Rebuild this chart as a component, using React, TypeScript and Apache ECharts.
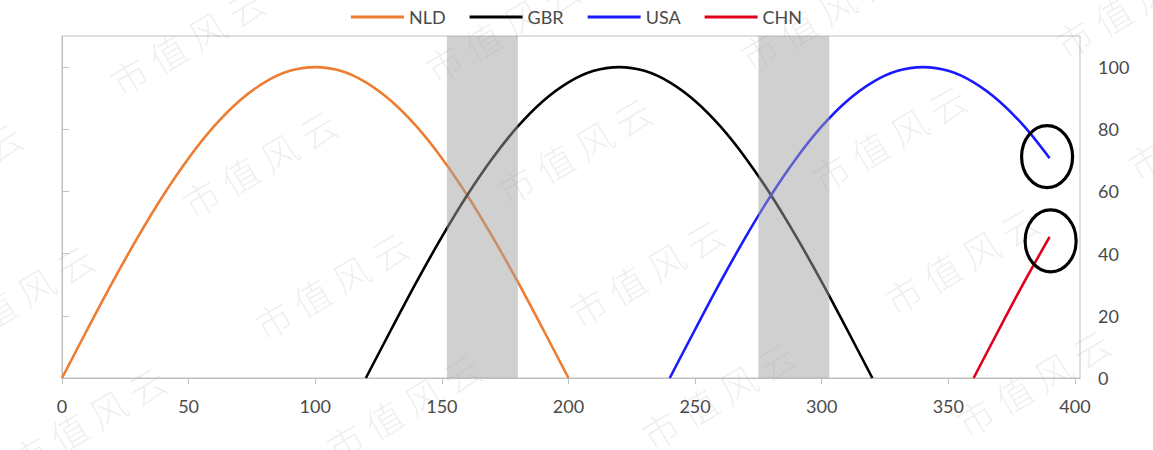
import React, { useEffect, useRef } from "react";
import * as echarts from "echarts";

// ---- data ----
const seriesNames = ["NLD", "GBR", "USA", "CHN"];
const seriesColors = ["#ED7D31", "#000000", "#1A1AFF", "#E0001B"];

const nldX = [0, 10, 20, 30, 40, 50, 60, 70, 80, 90, 100, 110, 120, 130, 140, 150, 160, 170, 180, 190, 200];
const nldY = [0, 15.6, 30.9, 45.4, 58.8, 70.7, 80.9, 89.1, 95.1, 98.8, 100, 98.8, 95.1, 89.1, 80.9, 70.7, 58.8, 45.4, 30.9, 15.6, 0];

const gbrX = [120, 130, 140, 150, 160, 170, 180, 190, 200, 210, 220, 230, 240, 250, 260, 270, 280, 290, 300, 310, 320];
const gbrY = [0, 15.6, 30.9, 45.4, 58.8, 70.7, 80.9, 89.1, 95.1, 98.8, 100, 98.8, 95.1, 89.1, 80.9, 70.7, 58.8, 45.4, 30.9, 15.6, 0];

const usaX = [240, 250, 260, 270, 280, 290, 300, 310, 320, 330, 340, 350, 360, 370, 380, 390];
const usaY = [0, 15.6, 30.9, 45.4, 58.8, 70.7, 80.9, 89.1, 95.1, 98.8, 100, 98.8, 95.1, 89.1, 80.9, 70.7];

const chnX = [360, 370, 380, 390];
const chnY = [0, 15.6, 30.9, 45.4];

// shaded bands [start, end] on the x axis
const bands = [
  [152, 180],
  [275, 303],
];

// circled points (data coordinates)
const circles = [
  [389, 71.2],
  [390.4, 44.1],
];

const xTicks = [0, 50, 100, 150, 200, 250, 300, 350, 400];
const yTicks = [0, 20, 40, 60, 80, 100];

const watermarkText = "市值风云";

const FONT = "Lato, 'Noto Sans', sans-serif";
const AXIS_COLOR = "#BFBFBF";
const LABEL_COLOR = "#4A4A4A";

function pairs(xs: number[], ys: number[]) {
  return xs.map((x, i) => [x, ys[i]]);
}

function buildWatermarks() {
  const items: any[] = [];
  const ox = 259, oy = 163;
  const ax = 315, ay = -12.5;
  const bx = 72, by = 122;
  const chars = watermarkText.split("");
  for (let j = -2; j <= 3; j++) {
    for (let i = -2; i <= 4; i++) {
      const cx = ox + i * ax + j * bx;
      const cy = oy + i * ay + j * by;
      if (cx < -120 || cx > 1153 + 120 || cy < -70 || cy > 450 + 70) continue;
      items.push({
        type: "group",
        x: cx,
        y: cy,
        rotation: (30.6 * Math.PI) / 180,
        z: 100,
        silent: true,
        children: chars.map((c, k) => ({
          type: "text",
          x: -67.5 + k * 45,
          y: 0,
          silent: true,
          style: {
            text: c,
            fontSize: 37,
            fontFamily: "'Noto Sans CJK SC', sans-serif",
            fontWeight: 300,
            fill: "rgba(0,0,0,0.075)",
            align: "center",
            verticalAlign: "middle",
          },
        })),
      });
    }
  }
  return items;
}

export default function App() {
  const ref = useRef<HTMLDivElement>(null);

  useEffect(() => {
    if (!ref.current) return;
    const chart = echarts.init(ref.current, undefined, { renderer: "svg" });
    const lineData = [pairs(nldX, nldY), pairs(gbrX, gbrY), pairs(usaX, usaY), pairs(chnX, chnY)];

    const option: any = {
      animation: false,
      backgroundColor: "#ffffff",
      legend: {
        data: seriesNames,
        top: 3,
        left: "center",
        icon: "rect",
        itemWidth: 53,
        itemHeight: 3,
        itemGap: 24,
        textStyle: { fontFamily: FONT, fontSize: 18, color: LABEL_COLOR, lineHeight: 18 },
      },
      grid: {
        left: 62,
        right: 73,
        top: 36,
        bottom: 72,
        show: true,
        borderColor: AXIS_COLOR,
        borderWidth: 1,
        backgroundColor: "transparent",
      },
      xAxis: {
        type: "value",
        min: 0,
        max: 402,
        splitLine: { show: false },
        axisLine: { show: true, lineStyle: { color: AXIS_COLOR, width: 1 } },
        axisTick: { show: true, length: 6, lineStyle: { color: AXIS_COLOR }, customValues: xTicks },
        axisLabel: {
          customValues: xTicks,
          margin: 19,
          fontFamily: FONT,
          fontSize: 18,
          color: LABEL_COLOR,
        },
      },
      yAxis: {
        type: "value",
        position: "right",
        min: 0,
        max: 110,
        splitLine: { show: false },
        axisLine: { show: true, lineStyle: { color: AXIS_COLOR, width: 1 } },
        axisTick: { show: true, inside: false, length: 7, lineStyle: { color: AXIS_COLOR }, customValues: yTicks },
        axisLabel: {
          customValues: yTicks,
          margin: 18,
          fontFamily: FONT,
          fontSize: 18,
          color: LABEL_COLOR,
        },
      },
      series: [
        ...seriesNames.map((name, i) => ({
          name,
          type: "line",
          data: lineData[i],
          smooth: 0.3,
          symbol: "none",
          z: 2,
          itemStyle: { color: seriesColors[i] },
          lineStyle: { color: seriesColors[i], width: 2.6 },
        })),
        {
          name: "bands",
          type: "custom",
          z: 5,
          silent: true,
          data: bands,
          renderItem: (params: any, api: any) => {
            const p0 = api.coord([api.value(0), 110]);
            const p1 = api.coord([api.value(1), 0]);
            return {
              type: "rect",
              shape: { x: p0[0], y: p0[1], width: p1[0] - p0[0], height: p1[1] - p0[1] },
              style: { fill: "rgba(161,161,161,0.5)" },
            };
          },
        },
        {
          name: "circles",
          type: "custom",
          z: 6,
          silent: true,
          clip: false,
          data: circles,
          renderItem: (params: any, api: any) => {
            const p = api.coord([api.value(0), api.value(1)]);
            return {
              type: "ellipse",
              shape: { cx: p[0], cy: p[1], rx: 25.5, ry: 31 },
              style: { fill: "none", stroke: "#000000", lineWidth: 3.2 },
            };
          },
        },
      ],
      graphic: buildWatermarks(),
    };

    chart.setOption(option);
    return () => chart.dispose();
  }, []);

  return (
    <div
      ref={ref}
      style={{ position: "absolute", left: 0, top: 0, width: 1153, height: 450 }}
    />
  );
}
